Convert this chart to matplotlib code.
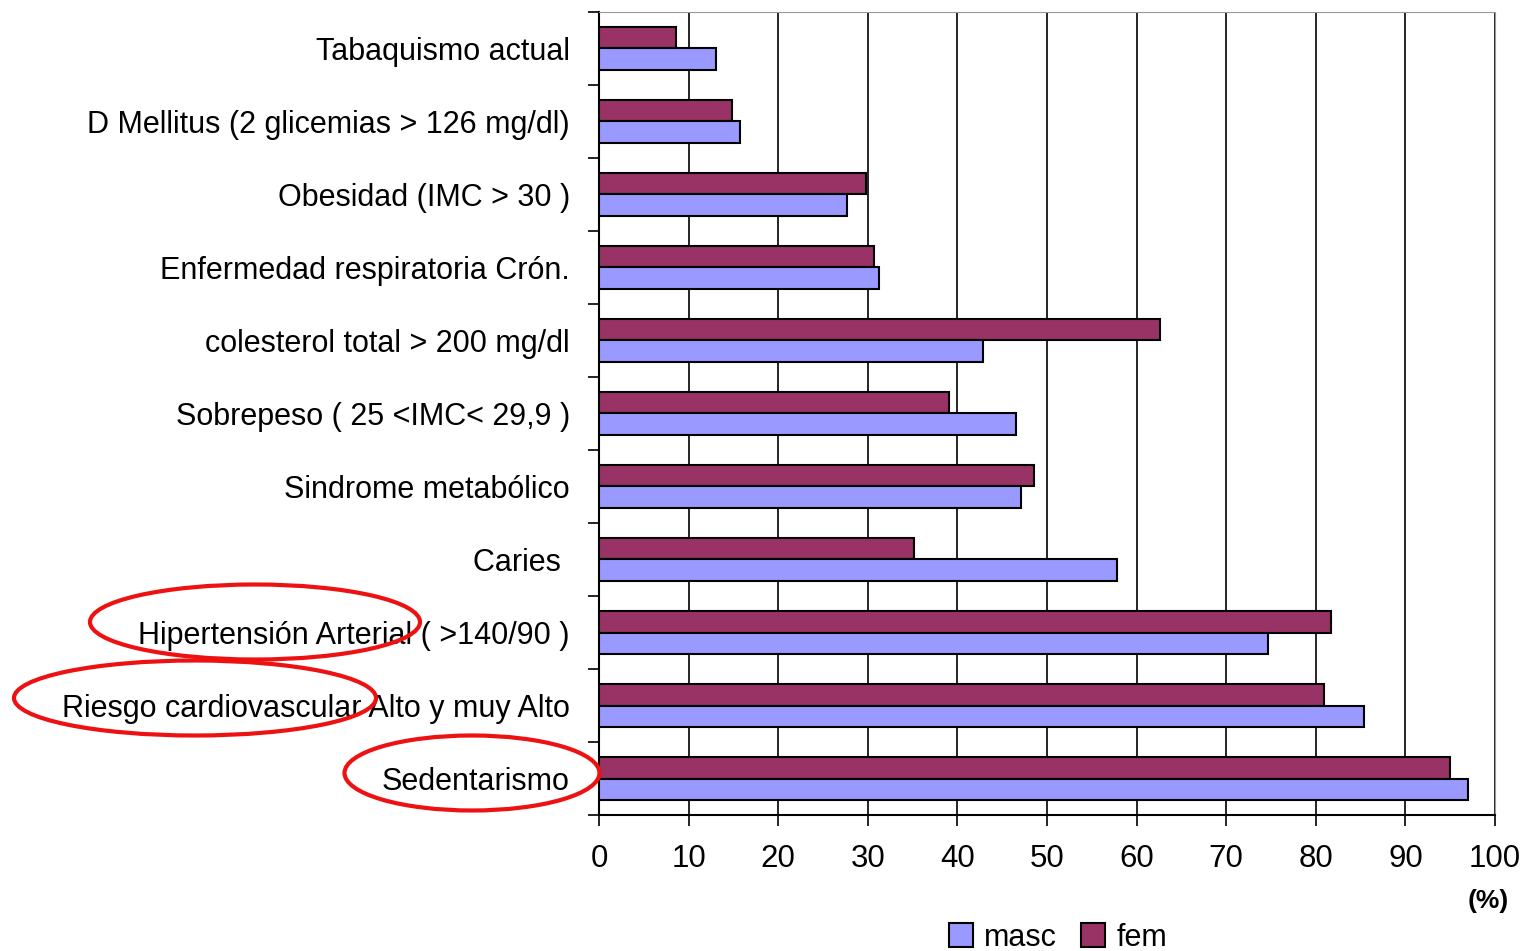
import numpy as np
import matplotlib.pyplot as plt
from matplotlib.patches import Ellipse

plt.rcParams['font.family'] = ['Liberation Sans', 'DejaVu Sans']

categories = ['Tabaquismo actual', 'D Mellitus (2 glicemias > 126 mg/dl)',
              'Obesidad (IMC > 30 )', 'Enfermedad respiratoria Crón.',
              'colesterol total > 200 mg/dl', 'Sobrepeso ( 25 <IMC< 29,9 )',
              'Sindrome metabólico', 'Caries ', 'Hipertensión Arterial ( >140/90 )',
              'Riesgo cardiovascular Alto y muy Alto', 'Sedentarismo']
masc = [13.1, 15.7, 27.7, 31.3, 42.9, 46.5, 47.1, 57.8, 74.7, 85.4, 97.0]
fem = [8.6, 14.8, 29.8, 30.7, 62.6, 39.1, 48.5, 35.2, 81.7, 80.9, 95.0]
xticks = list(range(0, 101, 10))

masc_color = '#9999ff'
fem_color = '#993366'

fig = plt.figure(figsize=(15.33, 9.51), dpi=100)
ax = fig.add_axes([0.3907, 0.143, 0.5845, 0.8444])

y = np.arange(len(categories))
h = 0.29
ax.barh(y - h / 2, fem, height=h, color=fem_color, edgecolor='black', linewidth=1.5, label='fem', zorder=3)
ax.barh(y + h / 2, masc, height=h, color=masc_color, edgecolor='black', linewidth=1.5, label='masc', zorder=3)

ax.set_ylim(len(categories) - 0.5, -0.5)
ax.set_xlim(0, 100)
ax.set_yticks(y)
ax.set_yticklabels(categories, fontsize=22)
ax.set_yticks(np.arange(-0.5, len(categories), 1), minor=True)
ax.tick_params(axis='y', which='major', length=0, pad=21)
ax.tick_params(axis='y', which='minor', length=8, width=1.2, direction='out')

ax.set_xticks(xticks)
ax.set_xticklabels([str(t) for t in xticks], fontsize=22.5)
ax.tick_params(axis='x', length=8, width=1.2, direction='out', pad=13)
ax.xaxis.grid(True, color='black', linewidth=1.2, zorder=0)

ax.spines['left'].set_linewidth(1.5)
ax.spines['bottom'].set_linewidth(1.5)
ax.spines['top'].set_color('#999999')
ax.spines['right'].set_color('#999999')

fig.text(0.984, 0.053, '(%)', fontsize=19, fontweight='bold', ha='right', va='center')

handles, labels = ax.get_legend_handles_labels()
fig.legend(handles[::-1], labels[::-1], loc='center', bbox_to_anchor=(0.69, 0.014), ncol=2,
           frameon=False, fontsize=22, handlelength=0.8, handleheight=0.8,
           handletextpad=0.35, columnspacing=0.8, borderpad=0)

# red circles drawn over the chart
for cx, cy, w, hh in [(255, 622, 330, 75), (195, 698, 362, 75), (472, 773, 255, 75)]:
    e = Ellipse((cx / 1533, 1 - cy / 951), w / 1533, hh / 951, transform=fig.transFigure,
                fill=False, edgecolor='#ee1111', linewidth=3, zorder=10)
    fig.add_artist(e)

fig.savefig('out.png', dpi=100)
